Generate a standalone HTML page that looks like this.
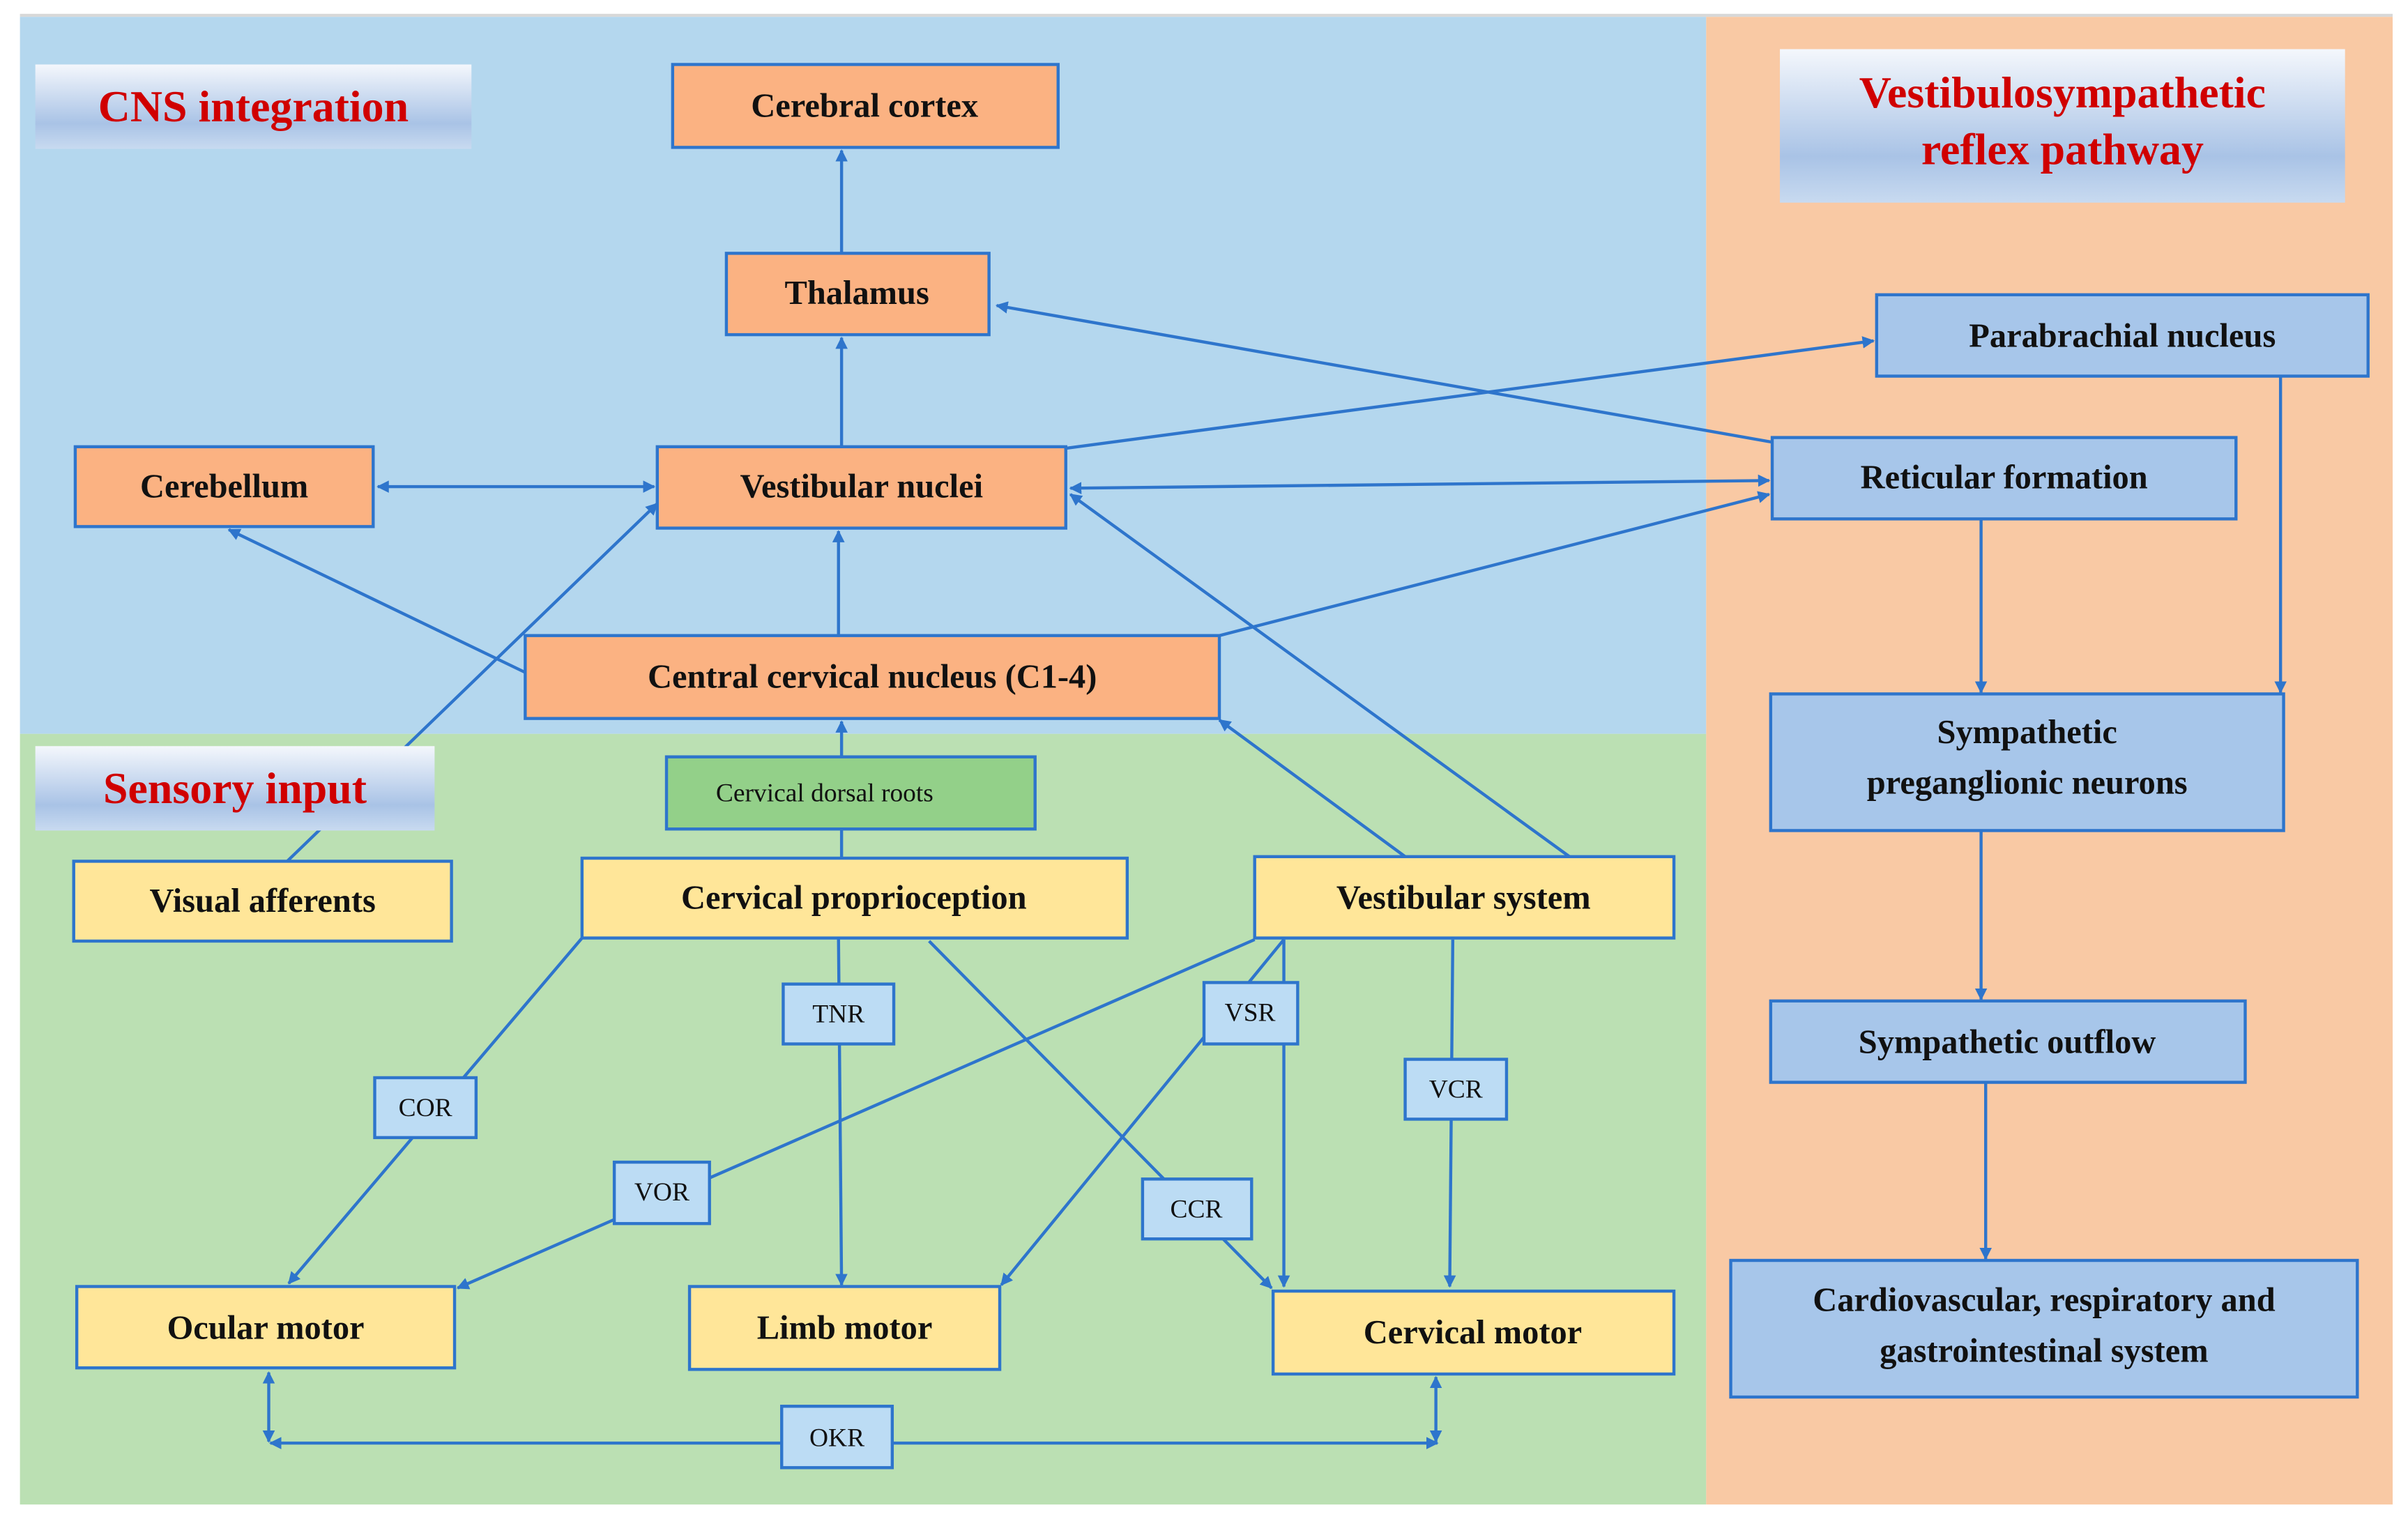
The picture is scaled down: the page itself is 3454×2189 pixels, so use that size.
<!DOCTYPE html>
<html><head><meta charset="utf-8"><style>html,body{margin:0;padding:0;background:#fff}svg{display:block}</style></head>
<body>
<svg width="3454" height="2189" viewBox="0 0 1568 994" preserveAspectRatio="none" xmlns="http://www.w3.org/2000/svg">
<defs>
<marker id="a" viewBox="0 0 10 10" refX="9" refY="5" markerWidth="8" markerHeight="8" orient="auto-start-reverse" markerUnits="userSpaceOnUse"><path d="M0,0L10,5L0,10z" fill="#2e75cc"/></marker>
<linearGradient id="g" x1="0" y1="0" x2="0" y2="1"><stop offset="0" stop-color="#f4f7fc"/><stop offset="0.7" stop-color="#a9c3e6"/><stop offset="1" stop-color="#c8daf0"/></linearGradient>
</defs>
<rect x="0" y="0" width="1568" height="994" fill="#fff"/>
<rect x="13" y="9" width="1545" height="2" fill="#d8d8d8"/>
<rect x="13" y="11" width="1098" height="467" fill="#b4d7ee"/>
<rect x="13" y="478" width="1098" height="502" fill="#bbe0b3"/>
<rect x="1111" y="11" width="447" height="969" fill="#f9c9a4"/>

<g stroke="#2e75cc" stroke-width="2" fill="none">
<line x1="548" y1="165" x2="548" y2="98" marker-end="url(#a)"/>
<line x1="548" y1="291" x2="548" y2="220" marker-end="url(#a)"/>
<line x1="246" y1="317" x2="426" y2="317" marker-start="url(#a)" marker-end="url(#a)"/>
<line x1="546" y1="414" x2="546" y2="346" marker-end="url(#a)"/>
<line x1="342" y1="438" x2="149" y2="345" marker-end="url(#a)"/>
<line x1="187" y1="561" x2="428" y2="328" marker-end="url(#a)"/>
<line x1="697" y1="318" x2="1152" y2="313" marker-start="url(#a)" marker-end="url(#a)"/>
<line x1="694" y1="292" x2="1220" y2="222" marker-end="url(#a)"/>
<line x1="1154" y1="288" x2="649" y2="199" marker-end="url(#a)"/>
<line x1="794" y1="414" x2="1152" y2="322" marker-end="url(#a)"/>
<line x1="1022" y1="558" x2="697" y2="322" marker-end="url(#a)"/>
<line x1="915" y1="558" x2="794" y2="469" marker-end="url(#a)"/>
<line x1="548" y1="559" x2="548" y2="470" marker-end="url(#a)"/>
<line x1="1290" y1="338" x2="1290" y2="451" marker-end="url(#a)"/>
<line x1="1485" y1="245" x2="1485" y2="451" marker-end="url(#a)"/>
<line x1="1290" y1="541" x2="1290" y2="651" marker-end="url(#a)"/>
<line x1="1293" y1="705" x2="1293" y2="820" marker-end="url(#a)"/>
<line x1="379" y1="611" x2="188" y2="836" marker-end="url(#a)"/>
<line x1="546" y1="611" x2="548" y2="837" marker-end="url(#a)"/>
<line x1="605" y1="613" x2="828" y2="839" marker-end="url(#a)"/>
<line x1="817" y1="612" x2="298" y2="839" marker-end="url(#a)"/>
<line x1="836" y1="612" x2="652" y2="837" marker-end="url(#a)"/>
<line x1="836" y1="612" x2="836" y2="838" marker-end="url(#a)"/>
<line x1="946" y1="612" x2="944" y2="838" marker-end="url(#a)"/>
<line x1="176" y1="940" x2="936" y2="940" marker-start="url(#a)" marker-end="url(#a)"/>
<line x1="175" y1="894" x2="175" y2="939" marker-start="url(#a)" marker-end="url(#a)"/>
<line x1="935" y1="897" x2="935" y2="939" marker-start="url(#a)" marker-end="url(#a)"/>
</g>

<g font-family="Liberation Serif, serif" font-weight="bold" fill="#d00000" font-size="29" text-anchor="middle">
<rect x="23" y="42" width="284" height="55" fill="url(#g)"/>
<text x="165" y="79">CNS integration</text>
<rect x="1159" y="32" width="368" height="100" fill="url(#g)"/>
<text x="1343" y="70">Vestibulosympathetic</text>
<text x="1343" y="107">reflex pathway</text>
<rect x="23" y="486" width="260" height="55" fill="url(#g)"/>
<text x="153" y="523">Sensory input</text>
</g>

<g stroke="#2e75cc" stroke-width="2">
<g fill="#fbb282">
<rect x="438" y="42" width="251" height="54"/>
<rect x="473" y="165" width="171" height="53"/>
<rect x="49" y="291" width="194" height="52"/>
<rect x="428" y="291" width="266" height="53"/>
<rect x="342" y="414" width="452" height="54"/>
</g>
<rect x="434" y="493" width="240" height="47" fill="#93d089"/>
<g fill="#ffe699">
<rect x="48" y="561" width="246" height="52"/>
<rect x="379" y="559" width="355" height="52"/>
<rect x="817" y="558" width="273" height="53"/>
<rect x="50" y="838" width="246" height="53"/>
<rect x="449" y="838" width="202" height="54"/>
<rect x="829" y="841" width="261" height="54"/>
</g>
<g fill="#a7c6ea">
<rect x="1222" y="192" width="320" height="53"/>
<rect x="1154" y="285" width="302" height="53"/>
<rect x="1153" y="452" width="334" height="89"/>
<rect x="1153" y="652" width="309" height="53"/>
<rect x="1127" y="821" width="408" height="89"/>
</g>
<g fill="#bcdcf4">
<rect x="510" y="641" width="72" height="39"/>
<rect x="244" y="702" width="66" height="39"/>
<rect x="784" y="640" width="61" height="40"/>
<rect x="915" y="690" width="66" height="39"/>
<rect x="400" y="757" width="62" height="40"/>
<rect x="744" y="768" width="71" height="39"/>
<rect x="509" y="916" width="72" height="40"/>
</g>
</g>

<g font-family="Liberation Serif, serif" font-weight="bold" font-size="22" fill="#111" text-anchor="middle">
<text x="563" y="76">Cerebral cortex</text>
<text x="558" y="198">Thalamus</text>
<text x="146" y="324">Cerebellum</text>
<text x="561" y="324">Vestibular nuclei</text>
<text x="568" y="448">Central cervical nucleus (C1-4)</text>
<text x="171" y="594">Visual afferents</text>
<text x="556" y="592">Cervical proprioception</text>
<text x="953" y="592">Vestibular system</text>
<text x="173" y="872">Ocular motor</text>
<text x="550" y="872">Limb motor</text>
<text x="959" y="875">Cervical motor</text>
<text x="1382" y="226">Parabrachial nucleus</text>
<text x="1305" y="318">Reticular formation</text>
<text x="1320" y="484">Sympathetic</text>
<text x="1320" y="517">preganglionic neurons</text>
<text x="1307" y="686">Sympathetic outflow</text>
<text x="1331" y="854">Cardiovascular, respiratory and</text>
<text x="1331" y="887">gastrointestinal system</text>
</g>
<g font-family="Liberation Serif, serif" font-size="17" fill="#111" text-anchor="middle">
<text x="537" y="522">Cervical dorsal roots</text>
<text x="546" y="666">TNR</text>
<text x="277" y="727">COR</text>
<text x="814" y="665">VSR</text>
<text x="948" y="715">VCR</text>
<text x="431" y="782">VOR</text>
<text x="779" y="793">CCR</text>
<text x="545" y="942">OKR</text>
</g>
</svg>
</body></html>
